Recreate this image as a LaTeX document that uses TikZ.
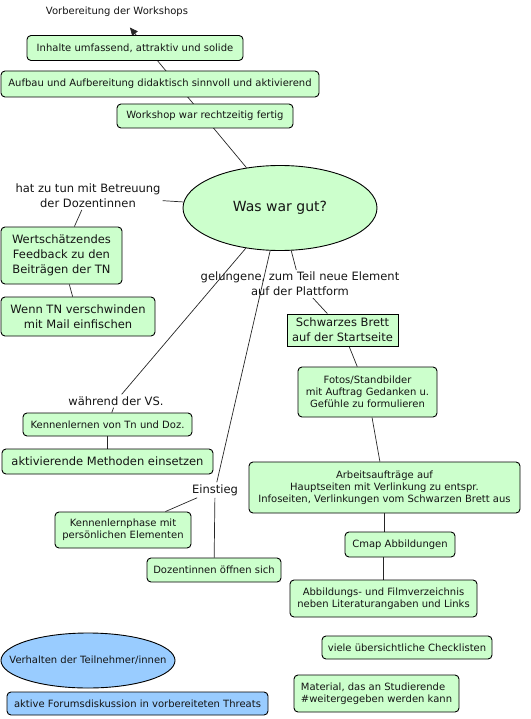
\documentclass[tikz,border=0pt]{standalone}
\usepackage{fontspec}
\setmainfont{DejaVu Sans}
\usetikzlibrary{shapes.geometric,arrows.meta}
\pgfdeclarelayer{background}
\pgfsetlayers{background,main}
\definecolor{cgreen}{RGB}{204,255,204}
\definecolor{cblue}{RGB}{153,204,255}
\definecolor{ctext}{RGB}{20,20,20}
\newcommand{\fa}{\fontsize{10}{12}\selectfont}
\newcommand{\fb}{\fontsize{11.5}{14.7}\selectfont}
\newcommand{\fc}{\fontsize{14}{16}\selectfont}
\tikzset{
  gbox/.style={draw=black, line width=0.9pt, fill=cgreen, rounded corners=4pt, inner sep=0pt, align=center, text=ctext},
  bbox/.style={draw=black, line width=0.9pt, fill=cblue, rounded corners=4pt, inner sep=0pt, align=center, text=ctext},
  sbox/.style={draw=black, line width=0.9pt, fill=cgreen, inner sep=0pt, align=center, text=ctext},
  ebox/.style={ellipse, draw=black, line width=0.9pt, inner xsep=-25pt, inner ysep=0pt, text=ctext},
  lbl/.style={inner sep=2pt, align=center, text=ctext},
  conn/.style={draw=black!85, line width=0.7pt},
  sz/.style 2 args={minimum width=#1pt, minimum height=#2pt}
}
\begin{document}
\begin{tikzpicture}[x=1pt,y=-1pt]
\useasboundingbox (0,0) rectangle (530,719);
% labels
\node[lbl, font=\fa] (vorb) at (117,12) {Vorbereitung der Workshops};
\node[lbl, font=\fb] (hat) at (88,196) {hat zu tun mit Betreuung\\der Dozentinnen};
\node[lbl, font=\fb] (gel) at (300,284) {gelungene, zum Teil neue Element\\auf der Plattform};
\node[lbl, font=\fb] (waehrend) at (116,401) {während der VS.};
\node[lbl, font=\fb] (einstieg) at (215,490) {Einstieg};
% boxes
\node[gbox, sz={216}{25}, font=\fa] (inhalte) at (135,48) {Inhalte umfassend, attraktiv und solide};
\node[gbox, sz={318}{26}, font=\fa] (aufbau) at (160,84) {Aufbau und Aufbereitung didaktisch sinnvoll und aktivierend};
\node[gbox, sz={176}{24}, font=\fa] (workshop) at (205,116) {Workshop war rechtzeitig fertig};
\node[ebox, fill=cgreen, minimum width=194pt, minimum height=85pt, font=\fc] (wg) at (280,208) {Was war gut?};
\node[gbox, sz={121}{57}, font=\fb] (wert) at (61.5,255.5) {Wertschätzendes\\Feedback zu den\\Beiträgen der TN};
\node[gbox, sz={154}{39}, font=\fb] (wenn) at (78,316.5) {Wenn TN verschwinden\\mit Mail einfischen};
\node[sbox, sz={111}{32}, font=\fb] (schwarz) at (342.5,330) {Schwarzes Brett\\auf der Startseite};
\node[gbox, sz={139}{50}, font=\fa] (fotos) at (367.5,392) {Fotos/Standbilder\\mit Auftrag Gedanken u.\\Gefühle zu formulieren};
\node[gbox, sz={271}{51}, font=\fa] (arbeit) at (384.5,487.5) {Arbeitsaufträge auf\\Hauptseiten mit Verlinkung zu entspr.\\Infoseiten, Verlinkungen vom Schwarzen Brett aus};
\node[gbox, sz={110}{25}, font=\fa] (cmap) at (400,544.5) {Cmap Abbildungen};
\node[gbox, sz={187}{37}, font=\fa] (abb) at (383.5,598.5) {Abbildungs- und Filmverzeichnis\\neben Literaturangaben und Links};
\node[gbox, sz={170}{23}, font=\fa] (check) at (407,647.5) {viele übersichtliche Checklisten};
\node[gbox, sz={165}{37}, font=\fa, align=left] (material) at (376.5,693.5) {Material, das an Studierende\\\#weitergegeben werden kann};
\node[ebox, fill=cblue, minimum width=174pt, minimum height=55pt, font=\fa] (verhalten) at (88,660.5) {Verhalten der Teilnehmer/innen};
\node[bbox, sz={261}{23}, font=\fa] (aktive) at (137.5,703.5) {aktive Forumsdiskussion in vorbereiteten Threats};
\node[gbox, sz={169}{23}, font=\fa] (kennen) at (107.5,424.5) {Kennenlernen von Tn und Doz.};
\node[gbox, sz={211}{25}, font=\fb] (aktiv) at (107.5,461.5) {aktivierende Methoden einsetzen};
\node[gbox, sz={136}{36}, font=\fa] (kphase) at (123,530) {Kennenlernphase mit\\persönlichen Elementen};
\node[gbox, sz={134}{24}, font=\fa] (doz) at (214,570) {Dozentinnen öffnen sich};
% connectors
\begin{pgfonlayer}{background}
\draw[conn, -{Triangle[length=8pt,width=7pt]}, shorten >=11pt] (wg) -- (vorb);
\draw[conn] (wg) -- (hat);
\draw[conn] (hat) -- (wert);
\draw[conn] (wert) -- (wenn);
\draw[conn] (wg) -- (gel);
\draw[conn] (gel) -- (schwarz);
\draw[conn] (schwarz) -- (fotos);
\draw[conn] (fotos) -- (arbeit);
\draw[conn] (arbeit.south) -- (arbeit.south |- cmap.north);
\draw[conn] (cmap.south -| abb.north) -- (abb.north);
\draw[conn] (wg) -- (waehrend);
\draw[conn] (waehrend) -- (kennen);
\draw[conn] (kennen) -- (aktiv);
\draw[conn] (wg) -- (einstieg);
\draw[conn] (einstieg) -- (kphase);
\draw[conn] (einstieg) -- (doz);
\end{pgfonlayer}
\end{tikzpicture}
\end{document}
